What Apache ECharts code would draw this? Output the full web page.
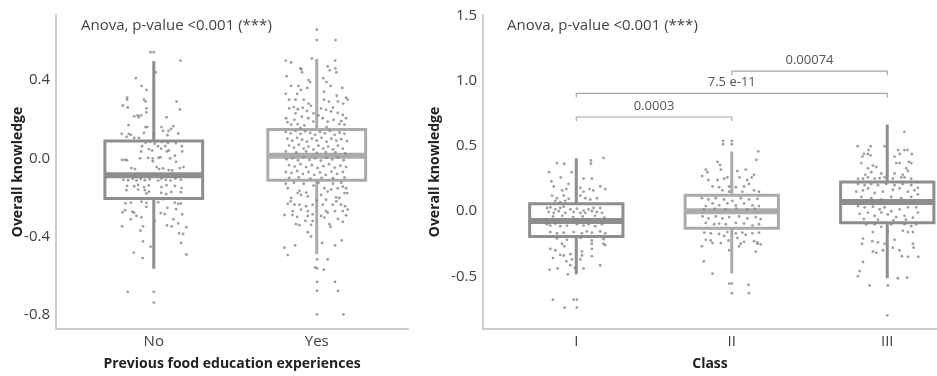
<!DOCTYPE html>
<html>
<head>
<meta charset="utf-8">
<script src="https://cdn.jsdelivr.net/npm/echarts@6/dist/echarts.min.js"></script>
<style>
  html, body { margin: 0; padding: 0; background: #fff; }
  #chart { width: 937px; height: 376px; }
</style>
</head>
<body>
<div id="chart"></div>
<script>
/* ── Data ─────────────────────────────────────────── */
const eduCategories = ["No", "Yes"];
// [min, q1, median, q3, max]
const eduStats = [
  [-0.565, -0.205, -0.087, 0.088, 0.497],
  [-0.49, -0.112, 0.013, 0.147, 0.508],
];
const classCategories = ["I", "II", "III"];
const classStats = [
  [-0.485, -0.194, -0.075, 0.058, 0.407],
  [-0.478, -0.131, 0.0, 0.123, 0.458],
  [-0.515, -0.088, 0.07, 0.224, 0.666],
];
const eduTicks = [-0.8, -0.4, 0.0, 0.4];
const classTicks = [-0.5, 0.0, 0.5, 1.0, 1.5];

// [from, to, height, label]
const brackets = [
  [1, 2, 0.724, "0.0003"],
  [1, 3, 0.905, "7.5 e-11"],
  [2, 3, 1.076, "0.00074"],
];

// jittered observations: [offset from category, value]
const noPoints = [
  [-0.02,0.543],[0.0,0.543],[0.164,0.50],[0.012,0.44],[-0.11,0.41],[-0.074,0.37],[-0.045,0.35],[-0.164,0.31],[-0.164,0.30],[-0.06,0.30],
  [-0.05,0.29],[0.14,0.29],[-0.19,0.27],[-0.16,0.26],[-0.045,0.255],[0.16,0.25],[-0.045,0.235],[-0.12,0.215],[-0.10,0.22],[-0.078,0.22],
  [-0.092,0.21],[0.078,0.21],[-0.155,0.17],[-0.05,0.16],[-0.04,0.16],[0.047,0.16],[0.12,0.165],[0.106,0.15],[0.09,0.14],[0.057,0.14],
  [-0.06,0.13],[-0.196,0.125],[-0.153,0.125],[-0.141,0.12],[-0.167,0.11],[0.15,0.127],[0.0,0.126],[0.084,0.118],[-0.12,0.105],[-0.092,0.105],
  [-0.05,0.08],[-0.025,0.085],[0.006,0.075],[0.05,0.083],[0.086,0.078],[0.135,0.078],[-0.072,0.062],[0.026,0.062],[0.07,0.062],[0.172,0.062],
  [-0.03,0.047],[-0.01,0.04],[0.092,0.04],[0.045,0.05],[-0.078,0.035],[0.08,0.035],[0.174,0.035],[0.13,0.013],[-0.195,-0.008],[-0.178,-0.008],
  [-0.164,-0.01],[-0.084,0.0],[-0.035,0.002],[-0.006,0.0],[0.03,0.003],[0.041,0.005],[0.1,0.0],[-0.006,-0.015],[0.137,-0.018],[-0.137,-0.05],
  [-0.115,-0.055],[0.018,-0.045],[0.033,-0.055],[0.057,-0.052],[0.092,-0.06],[0.112,-0.062],[0.16,-0.05],[0.182,-0.045],
  [-0.186,-0.11],[-0.158,-0.112],[-0.129,-0.105],[-0.106,-0.113],[-0.08,-0.106],[-0.055,-0.112],[-0.025,-0.108],[0.027,-0.114],[0.047,-0.104],
  [0.074,-0.11],[0.102,-0.114],[0.133,-0.104],[0.166,-0.11],
  [-0.164,-0.141],[-0.12,-0.143],[-0.096,-0.136],[-0.06,-0.147],[-0.03,-0.138],[0.047,-0.147],[0.078,-0.138],[0.13,-0.141],[0.17,-0.152],
  [-0.168,-0.163],[-0.096,-0.16],[-0.055,-0.163],[-0.029,-0.17],[-0.045,-0.18],[0.045,-0.177],[0.076,-0.183],[0.108,-0.172],[0.166,-0.173],
  [-0.174,-0.23],[-0.141,-0.227],[-0.076,-0.222],[-0.045,-0.228],[0.027,-0.225],[0.057,-0.21],[0.129,-0.227],[0.15,-0.233],[0.166,-0.23],
  [-0.045,-0.248],[0.083,-0.253],[0.137,-0.26],
  [-0.192,-0.277],[-0.176,-0.265],[-0.131,-0.273],[-0.121,-0.278],[-0.106,-0.295],[-0.076,-0.302],[0.043,-0.28],[0.067,-0.285],[0.174,-0.287],
  [-0.141,-0.312],[0.12,-0.312],[0.15,-0.333],[0.005,-0.32],
  [-0.194,-0.348],[-0.066,-0.348],[-0.082,-0.37],[0.081,-0.343],[0.11,-0.348],[0.2,-0.352],[0.155,-0.383],[0.18,-0.387],
  [-0.066,-0.425],[-0.02,-0.452],[0.168,-0.433],[-0.123,-0.482],[-0.068,-0.51],[0.2,-0.492],
  [-0.16,-0.683],[0.0,-0.683],[0.0,-0.738],
];
const yesPoints = [
  [0,0.658],[0,0.605],[0.115,0.605],[-0.03,0.51],[-0.19,0.5],[-0.158,0.49],[0.113,0.5],[-0.1,0.46],[-0.09,0.44],[-0.095,0.455],
  [0.067,0.47],[0.08,0.45],[0.115,0.46],[0.12,0.44],[-0.185,0.42],[0.04,0.41],[0.06,0.39],[0.085,0.37],[-0.05,0.40],[-0.04,0.39],
  [-0.158,0.37],[-0.113,0.37],[-0.097,0.35],[-0.058,0.36],[0.157,0.36],[-0.19,0.33],[-0.12,0.33],[0.045,0.34],[0.123,0.32],[0.18,0.31],
  [0.19,0.3],[-0.17,0.3],[-0.13,0.3],[-0.08,0.3],[-0.05,0.28],[0.045,0.3],[0.075,0.29],[0.13,0.29],[0.163,0.28],
  [-0.168,0.255],[-0.141,0.262],[-0.117,0.251],[-0.086,0.258],[-0.06,0.242],[-0.035,0.268],[0.027,0.255],[0.057,0.248],[0.088,0.24],[0.129,0.232],
  [0.16,0.222],[0.18,0.205],[-0.188,0.205],[-0.137,0.197],[-0.092,0.213],[-0.052,0.205],[-0.021,0.188],[0.037,0.205],[0.067,0.188],[0.104,0.197],
  [0.139,0.175],[0.17,0.172],[-0.157,0.172],[-0.117,0.175],[-0.076,0.168],[-0.18,0.185],[0.01,0.22],[0.15,0.19],[-0.02,0.23],[0.1,0.26],
  [-0.13,0.23],[0.06,0.16],[-0.1,0.155],
  [-0.19,0.135],[-0.16,0.128],[-0.13,0.14],[-0.1,0.125],[-0.07,0.138],[-0.04,0.13],[-0.01,0.12],[0.02,0.135],[0.05,0.128],[0.08,0.14],
  [0.11,0.12],[0.14,0.132],[0.17,0.125],[-0.18,0.1],[-0.15,0.09],[-0.12,0.105],[-0.09,0.095],[-0.06,0.085],[-0.03,0.1],[0.0,0.09],
  [0.03,0.105],[0.06,0.085],[0.09,0.1],[0.12,0.09],[0.15,0.098],[0.185,0.088],[-0.17,0.065],[-0.14,0.055],[-0.11,0.07],[-0.08,0.05],
  [-0.05,0.06],[-0.02,0.045],[0.01,0.065],[0.04,0.05],[0.07,0.06],[0.1,0.045],[0.13,0.065],[0.16,0.05],[-0.19,0.035],[-0.125,0.03],
  [-0.065,0.035],[0.0,0.028],[0.055,0.032],[0.115,0.03],[0.175,0.025],
  [-0.185,-0.005],[-0.15,0.0],[-0.115,-0.01],[-0.08,0.005],[-0.045,-0.008],[-0.01,0.0],[0.025,-0.012],[0.06,0.002],[0.095,-0.006],[0.13,0.004],
  [0.165,-0.01],[-0.17,-0.035],[-0.135,-0.042],[-0.1,-0.03],[-0.065,-0.045],[-0.03,-0.035],[0.005,-0.05],[0.04,-0.04],[0.075,-0.03],[0.11,-0.048],
  [0.145,-0.038],[0.18,-0.045],[-0.19,-0.07],[-0.155,-0.075],[-0.12,-0.065],[-0.085,-0.08],[-0.05,-0.07],[-0.015,-0.085],[0.02,-0.072],[0.055,-0.085],
  [0.09,-0.068],[0.125,-0.08],[0.16,-0.07],[-0.17,-0.1],[-0.11,-0.098],[-0.04,-0.104],[0.03,-0.1],[0.1,-0.102],[0.17,-0.098],
  [-0.19,-0.13],[-0.14,-0.125],[-0.08,-0.13],[-0.02,-0.14],[0.01,-0.125],[0.1,-0.13],[0.15,-0.125],
  [-0.178,-0.153],[-0.117,-0.178],[-0.106,-0.167],[-0.065,-0.175],[0.047,-0.153],[0.067,-0.17],[0.088,-0.16],[0.129,-0.153],[0.16,-0.145],[0.18,-0.153],
  [0.186,-0.178],[-0.157,-0.203],[-0.096,-0.187],[-0.055,-0.195],[0.027,-0.187],[0.057,-0.212],[0.119,-0.2],[0.139,-0.203],[0.17,-0.178],
  [-0.16,-0.22],[0.0,-0.215],[0.12,-0.22],
  [-0.178,-0.233],[-0.137,-0.237],[-0.106,-0.237],[-0.065,-0.245],[-0.025,-0.237],[0.037,-0.237],[0.098,-0.237],[0.149,-0.237],[0.174,-0.245],[0.19,-0.262],
  [-0.147,-0.27],[-0.096,-0.262],[-0.055,-0.27],[0.057,-0.27],[0.112,-0.27],[0.16,-0.27],
  [-0.198,-0.29],[-0.149,-0.29],[-0.055,-0.295],[-0.025,-0.287],[0.027,-0.295],[0.047,-0.303],[0.067,-0.278],[0.18,-0.292],
  [-0.12,-0.3],[0.13,-0.31],[-0.07,-0.32],[0.16,-0.325],
  [-0.025,-0.32],[-0.035,-0.34],[0.078,-0.337],[0.084,-0.35],[-0.127,-0.337],[-0.106,-0.342],[-0.055,-0.378],[-0.035,-0.4],
  [0.033,-0.433],[0.153,-0.42],[0.112,-0.445],[-0.198,-0.457],[-0.133,-0.445],[-0.178,-0.495],[0.002,-0.517],[0.067,-0.517],
  [-0.01,-0.558],[0.002,-0.563],[0.043,-0.57],[0.002,-0.632],[0.112,-0.632],[0.002,-0.678],[0.131,-0.678],[0.002,-0.798],[0.164,-0.798],
];
const class1Points = [
  [0.175,0.41],[0.094,0.39],[0.094,0.365],[-0.124,0.37],[-0.077,0.365],[-0.175,0.3],[-0.03,0.3],[-0.1,0.26],[0.047,0.25],[0.1,0.25],
  [-0.16,0.23],[-0.05,0.21],[-0.145,0.19],[-0.09,0.16],[-0.064,0.17],[0.026,0.18],[0.047,0.15],[0.085,0.17],[0.11,0.16],[0.154,0.19],
  [0.186,0.17],[-0.156,0.12],[-0.124,0.1],[-0.081,0.12],[-0.049,0.095],[0.026,0.12],[0.058,0.1],[0.09,0.09],[0.133,0.1],[-0.135,0.08],
  [-0.103,0.07],[-0.071,0.08],
  [-0.188,0.025],[-0.167,0.03],[-0.135,0.015],[-0.103,0.025],[-0.081,0.035],[-0.038,0.015],[0.004,0.02],[0.047,0.005],[0.079,0.015],[0.111,0.025],
  [0.154,0.025],[-0.177,-0.005],[-0.145,-0.013],[-0.113,0.0],[-0.071,-0.013],[-0.017,-0.005],[0.026,-0.013],[0.058,-0.013],[0.1,0.0],[0.133,-0.005],
  [0.165,-0.013],[-0.15,-0.04],[-0.09,-0.035],[-0.02,-0.045],[0.04,-0.04],[0.12,-0.035],[0.18,-0.05],[-0.19,-0.06],[0.07,-0.06],
  [-0.188,-0.1],[-0.167,-0.11],[-0.135,-0.095],[-0.103,-0.115],[-0.06,-0.11],[0.004,-0.1],[0.047,-0.11],[0.079,-0.1],[0.122,-0.115],[0.165,-0.1],
  [-0.167,-0.16],[-0.124,-0.17],[-0.081,-0.165],[-0.017,-0.16],[0.036,-0.17],[0.068,-0.155],[0.1,-0.165],[0.154,-0.155],[0.186,-0.17],
  [-0.124,-0.21],[-0.06,-0.22],[0.026,-0.205],[0.1,-0.225],[0.175,-0.215],
  [-0.092,-0.25],[0.1,-0.25],[0.175,-0.25],[-0.077,-0.27],[-0.167,-0.29],[-0.135,-0.3],[0.036,-0.31],[0.1,-0.29],[0.186,-0.26],
  [-0.103,-0.335],[-0.081,-0.34],[-0.038,-0.33],[0.036,-0.34],[0.1,-0.345],
  [-0.15,-0.36],[-0.064,-0.385],[-0.028,-0.37],[0.026,-0.37],
  [-0.171,-0.45],[-0.12,-0.44],[-0.038,-0.415],[-0.01,-0.435],[0.154,-0.415],[-0.055,-0.485],[0.047,-0.44],
  [-0.15,-0.68],[-0.017,-0.68],[0.004,-0.68],[-0.075,-0.74],[0.004,-0.74],
];
const class2Points = [
  [-0.056,0.54],[0.0,0.54],[-0.056,0.515],[0.0,0.515],[0.17,0.46],[0.158,0.395],[-0.092,0.38],[-0.075,0.355],[-0.167,0.32],[-0.156,0.3],
  [-0.19,0.27],[-0.07,0.32],[0.036,0.31],[0.09,0.32],[0.143,0.28],[0.128,0.26],[0.1,0.24],[0.05,0.26],
  [-0.15,0.24],[-0.092,0.24],[-0.049,0.25],[-0.028,0.26],[-0.124,0.19],[-0.081,0.185],[-0.017,0.19],[0.026,0.185],[0.079,0.19],[0.111,0.21],
  [-0.06,0.16],[-0.017,0.15],[0.068,0.15],[0.143,0.16],[0.175,0.15],
  [-0.192,0.1],[-0.15,0.09],[-0.103,0.1],[-0.049,0.09],[0.004,0.08],[0.058,0.1],[0.111,0.09],[0.165,0.095],[-0.124,0.06],[-0.081,0.045],
  [-0.028,0.06],[0.026,0.045],[0.079,0.06],[0.133,0.045],[0.175,0.04],[-0.167,0.04],
  [-0.11,0.02],[-0.04,0.015],[0.03,0.02],[0.1,0.015],[0.15,0.02],[-0.18,0.015],
  [-0.188,-0.04],[-0.15,-0.055],[-0.103,-0.04],[-0.06,-0.055],[-0.017,-0.045],[0.047,-0.04],[0.1,-0.055],[0.154,-0.045],[0.186,-0.06],
  [-0.167,-0.09],[-0.113,-0.1],[-0.081,-0.095],[-0.038,-0.1],[0.026,-0.09],[0.079,-0.095],[0.133,-0.11],[0.175,-0.1],
  [-0.177,-0.165],[-0.135,-0.17],[-0.081,-0.175],[-0.028,-0.16],[0.026,-0.17],[0.068,-0.165],[0.09,-0.18],[0.133,-0.17],[0.175,-0.165],
  [-0.167,-0.22],[-0.135,-0.225],[-0.049,-0.19],[-0.021,-0.225],[0.036,-0.205],[0.058,-0.25],[0.079,-0.235],[0.143,-0.23],[0.165,-0.25],[0.186,-0.255],
  [-0.192,-0.27],[-0.124,-0.245],[-0.07,-0.245],[-0.017,-0.3],[0.047,-0.27],[0.154,-0.31],[0.165,-0.24],
  [-0.18,-0.385],[-0.124,-0.48],[-0.017,-0.556],[0.0,-0.556],[0.107,-0.565],[0.0,-0.63],[0.11,-0.63],
];
const class3Points = [
  [0.11,0.61],[-0.19,0.5],[-0.107,0.5],[-0.017,0.5],[-0.12,0.47],[0.07,0.47],[0.11,0.47],[0.13,0.47],[-0.15,0.44],[-0.125,0.44],
  [-0.107,0.43],[0.158,0.44],[-0.16,0.42],[0.047,0.42],[0.08,0.44],[-0.167,0.37],[0.058,0.37],[0.08,0.37],[0.14,0.38],[0.155,0.37],
  [-0.092,0.35],[-0.07,0.34],[-0.124,0.33],[0.122,0.33],[0.133,0.31],
  [-0.141,0.28],[-0.103,0.3],[-0.038,0.29],[0.047,0.29],[0.1,0.28],[-0.017,0.26],[0.111,0.26],
  [-0.188,0.25],[-0.156,0.25],[-0.124,0.26],[-0.081,0.25],[-0.049,0.255],[0.036,0.25],[0.09,0.26],[0.154,0.25],
  [-0.188,0.21],[-0.145,0.2],[-0.103,0.21],[-0.06,0.2],[-0.006,0.21],[0.047,0.2],[0.1,0.21],[0.154,0.2],[0.197,0.18],
  [-0.199,0.15],[-0.156,0.16],[-0.124,0.175],[-0.081,0.14],[-0.028,0.15],[0.036,0.165],[0.079,0.175],[0.133,0.15],[0.175,0.16],[0.197,0.13],
  [-0.167,0.11],[-0.103,0.1],[-0.038,0.09],[0.026,0.11],[0.09,0.1],[0.154,0.11],
  [-0.188,0.04],[-0.145,0.03],[-0.092,0.035],[-0.049,0.015],[-0.017,0.03],[0.026,0.0],[0.079,0.015],[0.133,0.03],[0.186,0.03],
  [-0.177,-0.02],[-0.124,-0.01],[-0.081,-0.035],[-0.038,-0.01],[0.004,-0.025],[0.058,-0.045],[0.111,-0.035],[0.165,-0.05],[0.197,-0.01],
  [-0.15,-0.06],[-0.06,-0.065],[0.04,-0.07],[0.12,-0.065],
  [-0.135,-0.1],[-0.081,-0.1],[-0.038,-0.12],[0.026,-0.1],[0.111,-0.1],[0.154,-0.115],[0.186,-0.1],
  [-0.092,-0.16],[0.004,-0.155],[0.1,-0.15],[0.133,-0.16],[0.165,-0.16],
  [-0.156,-0.21],[0.047,-0.22],[-0.096,-0.23],[-0.06,-0.24],
  [-0.162,-0.25],[-0.017,-0.25],[0.036,-0.28],[0.165,-0.25],[0.17,-0.28],
  [-0.092,-0.31],[-0.028,-0.3],[-0.07,-0.32],[0.079,-0.3],
  [0.094,-0.345],[0.133,-0.35],[0.2,-0.35],
  [-0.156,-0.39],[-0.177,-0.46],[-0.188,-0.5],[0.068,-0.515],[0.128,-0.51],[-0.113,-0.57],[0.004,-0.57],[0.0,-0.8],
];

/* ── Styles ───────────────────────────────────────── */
const DARK = "#8e8e8e";
const LIGHT = "#ababab";
const AXIS_COLOR = "#cdcdcd";
const FONT = "'Open Sans', 'Liberation Sans', sans-serif";
const BOX_WIDTH = 0.6;

/* ── Helpers ──────────────────────────────────────── */
function boxData(stats, colors) {
  return stats.map((s, i) => [i + 1, ...s, colors[i]]);
}
function jitter(points, pos) {
  return points.map(([dx, y]) => [pos + dx, y]);
}
const palette = [DARK, LIGHT];

function renderBox(params, api) {
  const x = api.value(0);
  const lo = api.coord([x, api.value(1)]);
  const q1 = api.coord([x, api.value(2)]);
  const med = api.coord([x, api.value(3)]);
  const q3 = api.coord([x, api.value(4)]);
  const hi = api.coord([x, api.value(5)]);
  const half = api.size([BOX_WIDTH, 0])[0] / 2;
  const color = palette[api.value(6)];
  return {
    type: "group",
    children: [
      { type: "line", shape: { x1: hi[0], y1: hi[1], x2: q3[0], y2: q3[1] }, style: { stroke: color, lineWidth: 3 } },
      { type: "line", shape: { x1: q1[0], y1: q1[1], x2: lo[0], y2: lo[1] }, style: { stroke: color, lineWidth: 3 } },
      { type: "rect", shape: { x: q3[0] - half, y: q3[1], width: half * 2, height: q1[1] - q3[1] },
        style: { fill: "none", stroke: color, lineWidth: 3 } },
      { type: "line", shape: { x1: med[0] - half, y1: med[1], x2: med[0] + half, y2: med[1] },
        style: { stroke: color, lineWidth: 6 } },
    ],
  };
}

function renderBracket(params, api) {
  const a = api.coord([api.value(0), api.value(2)]);
  const b = api.coord([api.value(1), api.value(2)]);
  const label = brackets[params.dataIndex][3];
  return {
    type: "group",
    children: [
      { type: "polyline", shape: { points: [[a[0], a[1] + 4], a, b, [b[0], b[1] + 4]] },
        style: { fill: "none", stroke: "#a8a8a8", lineWidth: 1.2 } },
      { type: "text", x: (a[0] + b[0]) / 2, y: a[1] - 11,
        style: { text: label, fill: "#555", font: "13px " + FONT, align: "center", verticalAlign: "middle" } },
    ],
  };
}

function xAxisOf(gridIndex, min, max, cats, name) {
  return {
    type: "value", gridIndex, min, max,
    name, nameLocation: "middle", nameGap: 28, nameMoveOverlap: false,
    nameTextStyle: { fontFamily: FONT, fontSize: 14, fontWeight: "bold", color: "#222" },
    axisLine: { onZero: false, lineStyle: { color: AXIS_COLOR, width: 2 } },
    axisTick: { show: false },
    splitLine: { show: false },
    axisLabel: {
      customValues: cats.map((c, i) => i + 1),
      formatter: (v) => cats[Math.round(v) - 1] || "",
      fontFamily: FONT, fontSize: 15, color: "#404040", margin: 5,
    },
  };
}
function yAxisOf(gridIndex, min, max, ticks, gap) {
  return {
    type: "value", gridIndex, min, max,
    name: "Overall knowledge", nameLocation: "middle", nameGap: gap, nameMoveOverlap: false,
    nameTextStyle: { fontFamily: FONT, fontSize: 14, fontWeight: "bold", color: "#222" },
    axisLine: { show: true, onZero: false, lineStyle: { color: AXIS_COLOR, width: 2 } },
    axisTick: { show: false },
    splitLine: { show: false },
    axisLabel: {
      customValues: ticks,
      formatter: (v) => v.toFixed(1),
      fontFamily: FONT, fontSize: 15, color: "#404040", margin: 6,
    },
  };
}

const chart = echarts.init(document.getElementById("chart"));
chart.setOption({
  animation: false,
  backgroundColor: "#fff",
  grid: [
    { left: 56, top: 15, right: 529, bottom: 41 },
    { left: 483, top: 15, right: 0, bottom: 41 },
  ],
  xAxis: [
    xAxisOf(0, 0.4, 2.56, eduCategories, "Previous food education experiences"),
    xAxisOf(1, 0.4, 3.32, classCategories, "Class"),
  ],
  yAxis: [
    yAxisOf(0, -0.873, 0.733, eduTicks, 31),
    yAxisOf(1, -0.905, 1.508, classTicks, 41),
  ],
  graphic: [
    { type: "text", left: 81, top: 18, style: { text: "Anova, p-value <0.001 (***)", fill: "#444", font: "15px " + FONT } },
    { type: "text", left: 507, top: 18, style: { text: "Anova, p-value <0.001 (***)", fill: "#444", font: "15px " + FONT } },
  ],
  series: [
    { type: "custom", xAxisIndex: 0, yAxisIndex: 0, renderItem: renderBox, data: boxData(eduStats, [0, 1]), z: 2 },
    { type: "custom", xAxisIndex: 1, yAxisIndex: 1, renderItem: renderBox, data: boxData(classStats, [0, 1, 0]), z: 2 },
    { type: "scatter", xAxisIndex: 0, yAxisIndex: 0, symbolSize: 2.8, z: 3,
      itemStyle: { color: "#868686" }, data: jitter(noPoints, 1).concat(jitter(yesPoints, 2)) },
    { type: "scatter", xAxisIndex: 1, yAxisIndex: 1, symbolSize: 2.8, z: 3,
      itemStyle: { color: "#868686" },
      data: jitter(class1Points, 1).concat(jitter(class2Points, 2), jitter(class3Points, 3)) },
    { type: "custom", xAxisIndex: 1, yAxisIndex: 1, renderItem: renderBracket,
      data: brackets.map((b) => b.slice(0, 3)), z: 4 },
  ],
});
</script>
</body>
</html>
